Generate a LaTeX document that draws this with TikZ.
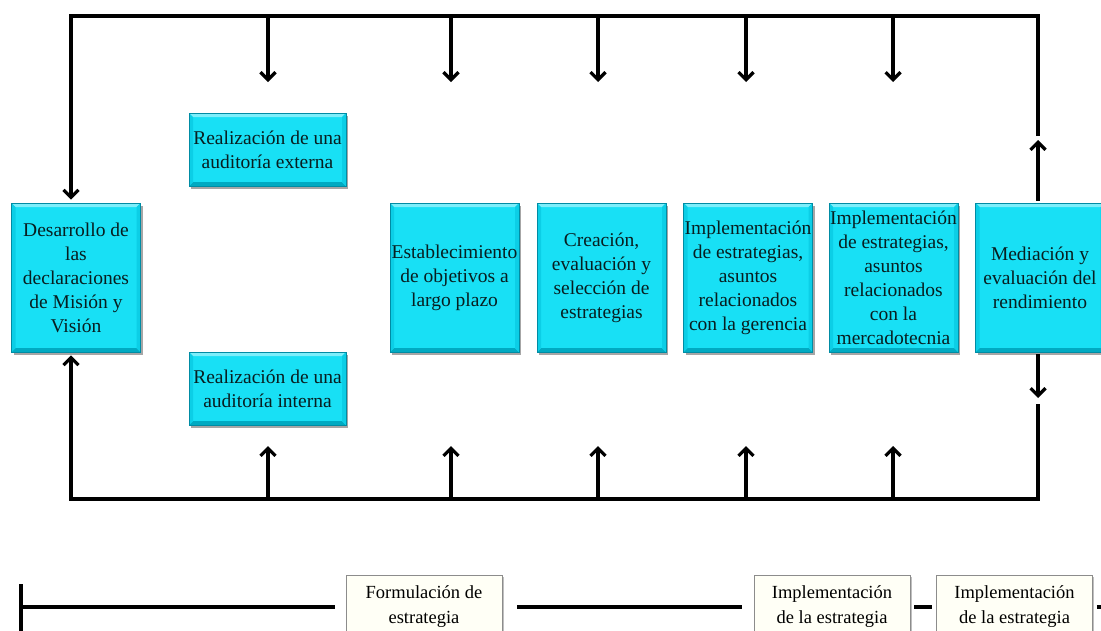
\documentclass[tikz,border=0pt]{standalone}
\usepackage{fontspec}
\setmainfont{Liberation Serif}
\usetikzlibrary{arrows.meta,shadows,calc}

\definecolor{boxcyan}{RGB}{24,224,245}
\definecolor{boxlight}{RGB}{125,238,250}
\definecolor{boxside}{RGB}{12,206,230}
\definecolor{boxdark}{RGB}{0,170,194}
\definecolor{boxedge}{RGB}{0,140,164}
\definecolor{boxtext}{RGB}{8,30,32}
\definecolor{phasefill}{RGB}{255,255,246}
\definecolor{phaseedge}{RGB}{140,140,140}

\tikzset{
  bevel/.style={path picture={
    \path (path picture bounding box.north west) coordinate (bNW)
          (path picture bounding box.north east) coordinate (bNE)
          (path picture bounding box.south west) coordinate (bSW)
          (path picture bounding box.south east) coordinate (bSE);
    \fill[boxlight] (bNW) -- (bNE) -- ([shift={(-4pt,-4pt)}]bNE) -- ([shift={(4pt,-4pt)}]bNW) -- cycle;
    \fill[boxdark] (bSW) -- (bSE) -- ([shift={(-4pt,4pt)}]bSE) -- ([shift={(4pt,4pt)}]bSW) -- cycle;
    \fill[boxside] (bNW) -- ([shift={(4pt,-4pt)}]bNW) -- ([shift={(4pt,4pt)}]bSW) -- (bSW) -- cycle;
    \fill[boxside] (bNE) -- ([shift={(-4pt,-4pt)}]bNE) -- ([shift={(-4pt,4pt)}]bSE) -- (bSE) -- cycle;
  }},
  stagebox/.style={draw=boxedge, line width=0.6pt, fill=boxcyan, text=boxtext,
    align=center, inner sep=0pt, bevel,
    font=\fontsize{19.5}{24}\selectfont,
    drop shadow={shadow xshift=2pt, shadow yshift=-3pt, fill=black, opacity=0.35}},
  tallbox/.style={stagebox, minimum width=129pt, minimum height=149pt},
  widebox/.style={stagebox, minimum width=157pt, minimum height=73pt},
  phasebox/.style={draw=phaseedge, line width=0.8pt, fill=phasefill, text=black,
    align=center, inner sep=0pt, minimum width=156pt, minimum height=64pt,
    font=\fontsize{18.5}{25}\selectfont,
    drop shadow={shadow xshift=1.5pt, shadow yshift=-1.5pt, fill=black, opacity=0.25}},
  wire/.style={line width=3.2pt, black},
  arrowed/.style={wire, -{Straight Barb[length=7.5pt,width=15pt]}},
}

\begin{document}
\begin{tikzpicture}[x=1pt, y=-1pt]
\clip (0,0) rectangle (1101,630);
\fill[white] (0,0) rectangle (1101,630);

% stage boxes
\node[tallbox] (mision) at (76,277.5) {Desarrollo de\\las\\declaraciones\\de Misión y\\Visión};
\node[widebox] (ext) at (267.5,149.5) {Realización de una\\auditoría externa};
\node[widebox] (int) at (267.5,388.5) {Realización de una\\auditoría interna};
\node[tallbox] (obj) at (454.5,277.5) {Establecimiento\\de objetivos a\\largo plazo};
\node[tallbox] (crea) at (601.5,277.5) {Creación,\\evaluación y\\selección de\\estrategias};
\node[tallbox] (impg) at (748,277.5) {Implementación\\de estrategias,\\asuntos\\relacionados\\con la gerencia};
\node[tallbox] (impm) at (893.5,277.5) {Implementación\\de estrategias,\\asuntos\\relacionados\\con la\\mercadotecnia};
\node[tallbox] (eval) at (1040,277.5) {Mediación y\\evaluación del\\rendimiento};

% corners of the feedback loop
\coordinate (tl) at (71,16);
\coordinate (tr) at (1038,16);
\coordinate (bl) at (71,499);
\coordinate (br) at (1038,499);
\coordinate (rtopend) at (1038,136);
\coordinate (rtoptip) at (1038,140);
\coordinate (rbottip) at (1038,398);
\coordinate (rbotstart) at (1038,404);

% loop
\draw[arrowed] (rtopend) -- (tr) -- (tl) -- ([yshift=3pt]mision.north -| tl);
\draw[arrowed] (rbotstart) -- (br) -- (bl) -- ([yshift=-3pt]mision.south -| bl);
\draw[arrowed] ([yshift=2pt]eval.north -| tr) -- (rtoptip);
\draw[arrowed] ([yshift=-2pt]eval.south -| tr) -- (rbottip);

% branch arrows from the top and bottom lines
\foreach \i/\x in {1/268,2/451,3/598,4/746,5/893}{
  \coordinate (top\i) at (\x,16);
  \coordinate (toptip\i) at (\x,82);
  \coordinate (bot\i) at (\x,499);
  \coordinate (bottip\i) at (\x,446);
  \draw[arrowed] (top\i) -- (toptip\i);
  \draw[arrowed] (bot\i) -- (bottip\i);
}

% phase timeline
\node[phasebox] (form) at (424,607) {Formulación de\\estrategia};
\node[phasebox] (impa) at (832,607) {Implementación\\de la estrategia};
\node[phasebox] (impb) at (1014.5,607) {Implementación\\de la estrategia};
\coordinate (barTop) at (21,584);
\coordinate (barBot) at (21,640);
\coordinate (tstart) at (21,607);
\coordinate (tend) at (1106,607);
\draw[wire] (barTop) -- (barBot);
\draw[wire] (tstart) -- ([xshift=-11pt]form.west);
\draw[wire] ([xshift=15pt]form.east) -- ([xshift=-12pt]impa.west);
\draw[wire] ([xshift=4pt]impa.east) -- ([xshift=-4pt]impb.west);
\draw[wire] ([xshift=4pt]impb.east) -- (tend);
\end{tikzpicture}
\end{document}
